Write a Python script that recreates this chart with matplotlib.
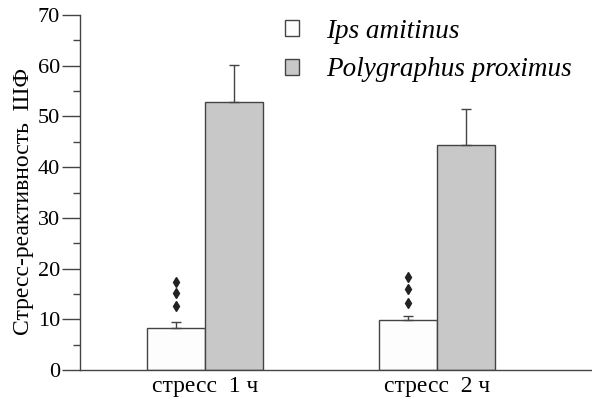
import matplotlib as mpl
mpl.use('Agg')
from matplotlib import pyplot as plt
from matplotlib.ticker import MultipleLocator
import numpy as np

# Data
groups = ['стресс  1 ч', 'стресс  2 ч']
species = ['Ips amitinus', 'Polygraphus proximus']
ips_mean = [8.3, 9.9]
ips_err = [1.2, 0.8]
poly_mean = [52.9, 44.3]
poly_err = [7.3, 7.2]
# significance markers (three diamonds above Ips bars)
marker_levels = [[12.6, 15.2, 17.4], [13.3, 15.9, 18.4]]

plt.rcParams['font.family'] = ['Liberation Serif', 'DejaVu Serif']

fig = plt.figure(figsize=(5.92, 4.01), dpi=100)
ax = fig.add_axes([80 / 592, 31 / 401, 512 / 592, 355 / 401])

x = np.arange(len(groups))
width = 0.25
edge = '#444444'
err_kw = dict(ecolor=edge, elinewidth=1.0, capsize=3.5, capthick=1.0)

ax.bar(x - width / 2, ips_mean, width, color='#fdfdfd', edgecolor=edge,
       linewidth=1.0, label=species[0],
       yerr=[np.zeros(len(x)), ips_err], error_kw=err_kw)
ax.bar(x + width / 2, poly_mean, width, color='#c8c8c8', edgecolor=edge,
       linewidth=1.0, label=species[1],
       yerr=[np.zeros(len(x)), poly_err], error_kw=err_kw)

for xi, levels in zip(x, marker_levels):
    ax.plot([xi - width / 2] * len(levels), levels, linestyle='none',
            marker='d', markersize=5, color='#222222')

ax.set_xlim(-0.539, 1.668)
ax.set_ylim(0, 70)
ax.yaxis.set_major_locator(MultipleLocator(10))
ax.yaxis.set_minor_locator(MultipleLocator(5))
ax.tick_params(axis='y', which='major', length=13, width=1.0, color=edge,
               labelsize=16, pad=1.5)
ax.tick_params(axis='y', which='minor', length=5, width=1.0, color=edge)
ax.set_xticks(x)
ax.set_xticklabels(groups)
ax.tick_params(axis='x', length=0, labelsize=17, pad=4)

for side in ['top', 'right']:
    ax.spines[side].set_visible(False)
for side in ['left', 'bottom']:
    ax.spines[side].set_color(edge)
    ax.spines[side].set_linewidth(1.0)

ax.set_ylabel('Стресс-реактивность  ШФ', fontsize=17)
ax.yaxis.set_label_coords(-0.09, 0.474)

leg = ax.legend(loc='upper left', bbox_to_anchor=(0.352, 1.058), frameon=False,
                handlelength=0.52, handleheight=0.52, handletextpad=1.0,
                labelspacing=0.5, prop={'style': 'italic', 'size': 19.5})

fig.savefig('out.png', dpi=100)
